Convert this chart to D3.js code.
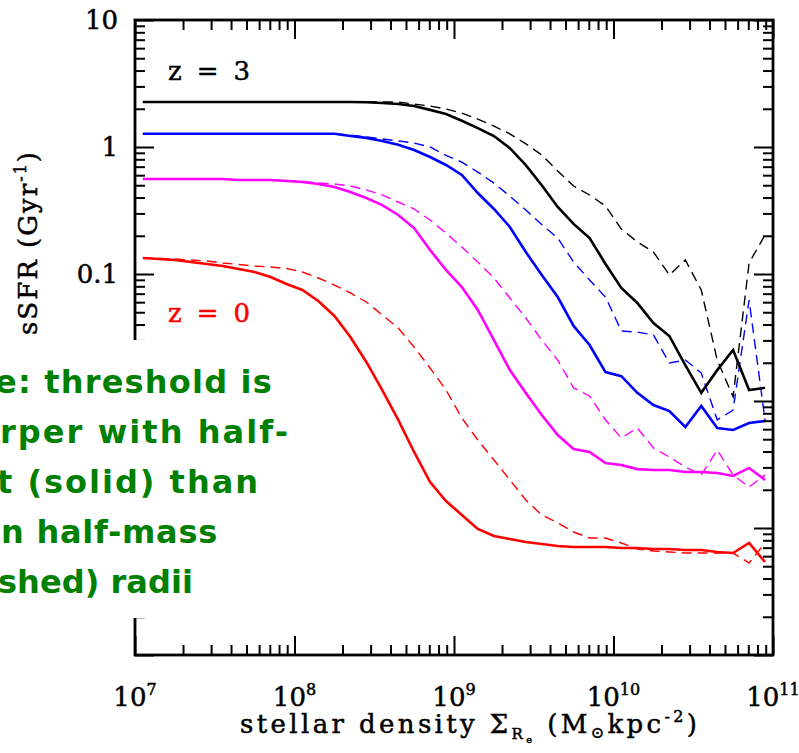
<!DOCTYPE html>
<html>
<head>
<meta charset="utf-8">
<script src="https://cdn.jsdelivr.net/npm/d3@7"></script>
<style>
  html, body { margin: 0; padding: 0; background: #fff; }
  svg { display: block; }
</style>
</head>
<body>
<svg id="chart" width="799" height="753"></svg>
<script>
// Stellar surface density bin centres (Msun kpc^-2), 0.1 dex bins
const density = [
  1.12e7, 1.41e7, 1.78e7, 2.24e7, 2.82e7, 3.55e7, 4.47e7, 5.62e7, 7.08e7, 8.91e7,
  1.12e8, 1.41e8, 1.78e8, 2.24e8, 2.82e8, 3.55e8, 4.47e8, 5.62e8, 7.08e8, 8.91e8,
  1.12e9, 1.41e9, 1.78e9, 2.24e9, 2.82e9, 3.55e9, 4.47e9, 5.62e9, 7.08e9, 8.91e9,
  1.12e10, 1.41e10, 1.78e10, 2.24e10, 2.82e10, 3.55e10, 4.47e10, 5.62e10, 7.08e10, 8.91e10
];

// sSFR (Gyr^-1), half-light radii (solid) and half-mass radii (dashed)
const z3HalfLight = [
  2.26, 2.26, 2.26, 2.26, 2.26, 2.26, 2.26, 2.26, 2.26, 2.26,
  2.26, 2.26, 2.26, 2.26, 2.25, 2.22, 2.18, 2.10, 1.96, 1.82,
  1.61, 1.41, 1.22, 0.98, 0.72, 0.50, 0.337, 0.248, 0.192, 0.120,
  0.0776, 0.0591, 0.0411, 0.0325, 0.0192, 0.0116, 0.0175, 0.0252, 0.0122, 0.0127
];
const z3HalfMass = [
  2.26, 2.26, 2.26, 2.26, 2.26, 2.26, 2.26, 2.26, 2.26, 2.26,
  2.26, 2.26, 2.26, 2.26, 2.26, 2.26, 2.26, 2.18, 2.10, 1.99,
  1.85, 1.66, 1.46, 1.27, 1.06, 0.865, 0.647, 0.493, 0.419, 0.343,
  0.226, 0.179, 0.149, 0.0982, 0.129, 0.0748, 0.0210, 0.0108, 0.122, 0.203
];
const z2HalfLight = [
  1.27, 1.27, 1.27, 1.27, 1.27, 1.27, 1.27, 1.27, 1.27, 1.27,
  1.27, 1.27, 1.27, 1.22, 1.18, 1.115, 1.04, 0.947, 0.834, 0.722,
  0.602, 0.434, 0.325, 0.2345, 0.149, 0.0982, 0.0659, 0.0390, 0.0276, 0.0169,
  0.0157, 0.0116, 0.0093, 0.00834, 0.00624, 0.00913, 0.00613, 0.00591, 0.00671, 0.00696
];
const z2HalfMass = [
  1.27, 1.27, 1.27, 1.27, 1.27, 1.27, 1.27, 1.27, 1.27, 1.27,
  1.27, 1.27, 1.27, 1.24, 1.20, 1.156, 1.115, 1.075, 1.00, 0.86,
  0.76, 0.635, 0.52, 0.41, 0.319, 0.245, 0.192, 0.1243, 0.0897, 0.0659,
  0.0356, 0.0349, 0.0331, 0.0199, 0.0210, 0.0166, 0.00709, 0.00849, 0.0624, 0.00709
];
const z1HalfLight = [
  0.560, 0.560, 0.560, 0.560, 0.560, 0.560, 0.550, 0.550, 0.550, 0.540,
  0.530, 0.511, 0.484, 0.442, 0.397, 0.349, 0.2915, 0.230, 0.1545, 0.1075,
  0.0790, 0.0521, 0.0302, 0.01754, 0.01156, 0.00776, 0.00540, 0.00419, 0.00397, 0.00325,
  0.00313, 0.00291, 0.00286, 0.00286, 0.00276, 0.00276, 0.00271, 0.00257, 0.00297, 0.00239
];
const z1HalfMass = [
  0.560, 0.560, 0.560, 0.560, 0.560, 0.560, 0.550, 0.550, 0.550, 0.545,
  0.535, 0.521, 0.511, 0.493, 0.459, 0.419, 0.369, 0.325, 0.266, 0.210,
  0.163, 0.1243, 0.0930, 0.0647, 0.0450, 0.0302, 0.0210, 0.01266, 0.01095, 0.00709,
  0.00511, 0.00613, 0.00427, 0.00362, 0.00302, 0.00261, 0.00411, 0.00261, 0.00210, 0.00261
];
const z0HalfLight = [
  0.1337, 0.1312, 0.1289, 0.1243, 0.1199, 0.1156, 0.1095, 0.1037, 0.0947, 0.0834,
  0.0748, 0.0613, 0.0467, 0.0319, 0.0203, 0.0122, 0.00709, 0.00397, 0.00230, 0.00163,
  0.001266, 0.000982, 0.000865, 0.000819, 0.000776, 0.000748, 0.000722, 0.000709, 0.000709, 0.000709,
  0.000696, 0.000696, 0.000683, 0.000683, 0.000671, 0.000671, 0.000647, 0.000635, 0.000762, 0.000540
];
const z0HalfMass = [
  0.1337, 0.1325, 0.1312, 0.1289, 0.1266, 0.1221, 0.1188, 0.1156, 0.1135, 0.1105,
  0.1037, 0.0930, 0.0819, 0.0709, 0.0602, 0.0475, 0.0376, 0.0266, 0.0182, 0.0122,
  0.00735, 0.00493, 0.00343, 0.00239, 0.00166, 0.001266, 0.001095, 0.000930, 0.000834, 0.000834,
  0.000762, 0.000683, 0.000659, 0.000647, 0.000635, 0.000635, 0.000635, 0.000635, 0.000530, 0.000762
];

const xTickExponents = [7, 8, 9, 10, 11];
const yTickValues = [10, 1, 0.1, 0.01, 0.001];
const yTickLabels = ["10", "1", "0.1", "0.01", "0.001"];

const noteLines = [
  "Note: threshold is",
  "sharper with half-",
  "light (solid) than",
  "when half-mass",
  "(dashed) radii"
];

const series = [
  { values: z0HalfMass, color: "#ff0000", dashed: true },
  { values: z1HalfMass, color: "#ff00ff", dashed: true },
  { values: z2HalfMass, color: "#0000ff", dashed: true },
  { values: z3HalfMass, color: "#000000", dashed: true },
  { values: z0HalfLight, color: "#ff0000", dashed: false },
  { values: z1HalfLight, color: "#ff00ff", dashed: false },
  { values: z2HalfLight, color: "#0000ff", dashed: false },
  { values: z3HalfLight, color: "#000000", dashed: false }
];

const svg = d3.select("#chart");
const plotLeft = 135, plotRight = 773, plotTop = 20, plotBottom = 655;

const x = d3.scaleLog().domain([1e7, 1e11]).range([plotLeft, plotRight]);
const y = d3.scaleLog().domain([1e-4, 10]).range([plotBottom, plotTop]);

const labelFont = "'DejaVu Serif', 'Liberation Serif', serif";

// Curves
const line = d3.line()
  .x((d, i) => x(density[i]))
  .y(d => y(d));

const curves = svg.append("g").attr("class", "curves");
series.forEach(s => {
  curves.append("path")
    .datum(s.values)
    .attr("d", line)
    .attr("fill", "none")
    .attr("stroke", s.color)
    .attr("stroke-width", s.dashed ? 1.4 : 2.6)
    .attr("stroke-linejoin", "miter")
    .attr("stroke-dasharray", s.dashed ? "10,6" : null);
});

// Tick marks on all four sides
const isDecade = v => Math.abs(Math.log10(v) - Math.round(Math.log10(v))) < 1e-6;
const xMinor = x.ticks().filter(v => !isDecade(v));
const xMajor = xTickExponents.map(e => Math.pow(10, e));
const yMinor = y.ticks().filter(v => !isDecade(v));
const yMajor = [10, 1, 0.1, 0.01, 0.001, 0.0001];

function drawAxis(axisFn, scale, values, size, transform) {
  const g = svg.append("g")
    .attr("transform", transform)
    .call(axisFn(scale).tickValues(values).tickSize(-size).tickFormat(""));
  g.select(".domain").remove();
  g.selectAll(".tick line").attr("stroke", "#000").attr("stroke-width", 2);
  return g;
}
drawAxis(d3.axisBottom, x, xMinor, 10, `translate(0,${plotBottom})`);
drawAxis(d3.axisBottom, x, xMajor, 19, `translate(0,${plotBottom})`);
drawAxis(d3.axisTop, x, xMinor, 10, `translate(0,${plotTop})`);
drawAxis(d3.axisTop, x, xMajor, 19, `translate(0,${plotTop})`);
drawAxis(d3.axisLeft, y, yMinor, 10, `translate(${plotLeft},0)`);
drawAxis(d3.axisLeft, y, yMajor, 19, `translate(${plotLeft},0)`);
drawAxis(d3.axisRight, y, yMinor, 10, `translate(${plotRight},0)`);
drawAxis(d3.axisRight, y, yMajor, 19, `translate(${plotRight},0)`);

// Frame
svg.append("rect")
  .attr("x", plotLeft).attr("y", plotTop)
  .attr("width", plotRight - plotLeft).attr("height", plotBottom - plotTop)
  .attr("fill", "none").attr("stroke", "#000").attr("stroke-width", 2.8);

// Axis text is drawn with a thin outline for a plotter-pen weight
function penText(sel, color) {
  return sel.attr("fill", color).attr("stroke", color)
    .attr("stroke-width", 0.5).attr("stroke-linejoin", "round");
}

// Y tick labels
penText(svg.append("g").selectAll("text")
  .data(yTickValues)
  .join("text")
  .attr("x", 118)
  .attr("y", d => y(d) + 9)
  .attr("text-anchor", "end")
  .attr("font-family", labelFont)
  .attr("font-size", 26)
  .text((d, i) => yTickLabels[i]), "#000");

// X tick labels (powers of ten)
const xl = penText(svg.append("g").selectAll("text")
  .data(xTickExponents)
  .join("text")
  .attr("x", e => x(Math.pow(10, e)))
  .attr("y", 706)
  .attr("text-anchor", "middle")
  .attr("font-family", labelFont)
  .attr("font-size", 26), "#000");
xl.append("tspan").text("10");
xl.append("tspan").attr("dy", -11).attr("font-size", 16).text(e => e);

// Axis titles
const xt = penText(svg.append("text")
  .attr("x", 240).attr("y", 733)
  .attr("text-anchor", "start")
  .attr("font-family", labelFont)
  .attr("font-size", 26)
  .attr("textLength", 457)
  .attr("lengthAdjust", "spacing"), "#000");
xt.append("tspan").text("stellar density Σ");
xt.append("tspan").attr("dy", 6).attr("font-size", 15).text("R");
xt.append("tspan").attr("dy", 4).attr("font-size", 10).text("e");
xt.append("tspan").attr("dy", -10).text(" (M");
xt.append("tspan").attr("dy", 5).attr("font-size", 16).text("⊙");
xt.append("tspan").attr("dy", -5).text("kpc");
xt.append("tspan").attr("dy", -11).attr("font-size", 16).text("-2");
xt.append("tspan").attr("dy", 11).text(")");

const yt = penText(svg.append("text")
  .attr("transform", "translate(37,335) rotate(-90)")
  .attr("text-anchor", "start")
  .attr("font-family", labelFont)
  .attr("font-size", 26)
  .attr("textLength", 183)
  .attr("lengthAdjust", "spacing"), "#000");
yt.append("tspan").text("sSFR (Gyr");
yt.append("tspan").attr("dy", -11).attr("font-size", 16).text("-1");
yt.append("tspan").attr("dy", 11).text(")");

// Redshift labels
penText(svg.append("text")
  .attr("x", 168).attr("y", 80)
  .attr("font-family", labelFont).attr("font-size", 26)
  .attr("textLength", 82).attr("lengthAdjust", "spacing")
  .text("z = 3"), "#000");
penText(svg.append("text")
  .attr("x", 168).attr("y", 322)
  .attr("font-family", labelFont).attr("font-size", 26)
  .attr("textLength", 82).attr("lengthAdjust", "spacing")
  .text("z = 0"), "#ff0000");

// Note panel laid over the lower left of the plot
svg.append("rect")
  .attr("x", -5).attr("y", 340)
  .attr("width", 300).attr("height", 278)
  .attr("fill", "#fff");

// Note layout: each line runs past the left page edge; the leading
// characters fall off the page and the rest spans [start, end].
const noteFont = "'DejaVu Sans', 'Noto Sans', sans-serif";
const noteHidden = [3, 3, 4, 3, 3];
const noteStart = [-5, 0, -3, 1, -2];
const noteEnd = [273, 290, 260, 218, 193];

const noteG = svg.append("g");
noteLines.forEach((txt, i) => {
  const t = noteG.append("text")
    .attr("x", 0)
    .attr("y", 393 + i * 50)
    .attr("font-family", noteFont)
    .attr("font-size", 32)
    .attr("font-weight", "bold")
    .attr("fill", "#008000")
    .text(txt);
  const node = t.node();
  const n = txt.length, k = noteHidden[i];
  const full = node.getComputedTextLength();
  const prefix = node.getSubStringLength(0, k);
  const visible = full - prefix;
  const spacing = (noteEnd[i] - noteStart[i] - visible) / (n - k);
  t.attr("letter-spacing", spacing)
   .attr("x", noteStart[i] - prefix - k * spacing);
});
</script>
</body>
</html>
